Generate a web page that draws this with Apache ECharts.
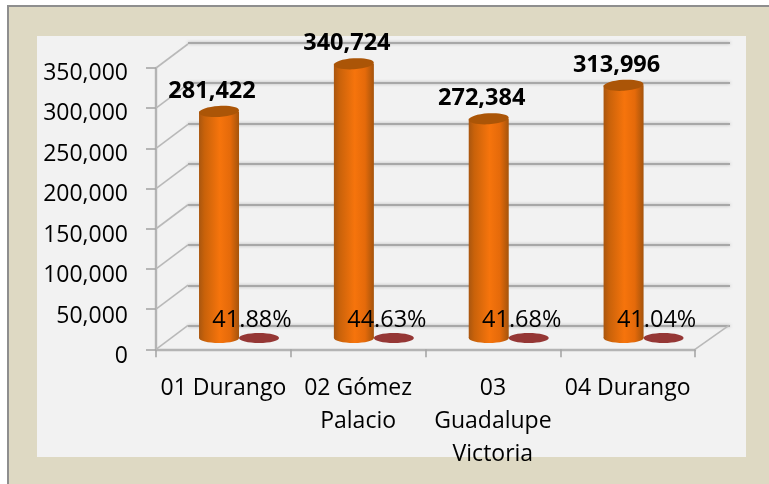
<!DOCTYPE html>
<html>
<head>
<meta charset="utf-8">
<style>html,body{margin:0;padding:0;background:#fff}#c{width:769px;height:484px}</style>
<script src="https://cdn.jsdelivr.net/npm/echarts@6/dist/echarts.min.js"></script>
</head>
<body>
<div id="c"></div>
<script>
const categories = ['01 Durango', '02 Gómez\nPalacio', '03\nGuadalupe\nVictoria', '04 Durango'];
const votes = [281422, 340724, 272384, 313996];
const shares = [0.4188, 0.4463, 0.4168, 0.4104];
const yTicks = [0, 50000, 100000, 150000, 200000, 250000, 300000, 350000];

const FONT = '"Open Sans", "Noto Sans", sans-serif';
const fmt = v => Number(v).toLocaleString('en-US');
const bodyGradient = {
  type: 'linear', x: 0, y: 0, x2: 1, y2: 0,
  colorStops: [
    { offset: 0, color: '#a9560f' }, { offset: 0.14, color: '#c9620a' },
    { offset: 0.52, color: '#f6740c' }, { offset: 0.78, color: '#e56a0a' },
    { offset: 1, color: '#a5540c' }
  ]
};
const BAR_W = 40;

function ellipse(cx, cy, rx, ry, fill, z2, rot) {
  return { type: 'ellipse', x: cx, y: cy, rotation: rot || 0, z2: z2,
    shape: { cx: 0, cy: 0, rx: rx, ry: ry }, style: { fill: fill } };
}

function renderCaps(params, api) {
  const i = api.value(0), c = api.coord([i, api.value(1)]);
  const b = api.coord([i, 0]);
  return { type: 'group', children: [
    ellipse(c[0] - BAR_W / 2, b[1], BAR_W / 2, 5, bodyGradient, 1),
    ellipse(c[0] - BAR_W / 2, c[1], BAR_W / 2, 5.5, '#ab5507', 2, 0.06),
    ellipse(c[0] + BAR_W / 2, b[1], BAR_W / 2, 5, '#953735', 2)
  ]};
}

function renderDepth(params, api) {
  const c = api.coord([0, api.value(0)]);
  const w = api.size([1, 0])[0];
  const x = c[0] - w / 2;
  const depth = { x: 32, y: -24 };
  const lines = [{ type: 'line', shape: { x1: x, y1: c[1], x2: x + depth.x, y2: c[1] + depth.y },
    style: { stroke: '#b9b9b9', lineWidth: 1.6 } }];
  if (api.value(0) === 0) {
    const xr = x + w * categories.length;
    lines.push({ type: 'line', shape: { x1: xr, y1: c[1], x2: xr + depth.x + 2, y2: c[1] + depth.y },
      style: { stroke: '#b9b9b9', lineWidth: 1.6 } });
  }
  return { type: 'group', children: lines };
}

const chart = echarts.init(document.getElementById('c'), null, { renderer: 'canvas' });
chart.setOption({
  animation: false,
  backgroundColor: '#ffffff',
  graphic: [
    { type: 'rect', z: -10, shape: { x: 8, y: 6, width: 780, height: 500 },
      style: { fill: '#ded9c3', stroke: '#8e8e8e', lineWidth: 2 } },
    { type: 'rect', z: -9, shape: { x: 37, y: 36, width: 709, height: 421 },
      style: { fill: '#f2f2f2' } }
  ],
  grid: [
    { left: 156, width: 539, top: 68, height: 281.3 },
    { left: 171.6, width: 539.4, top: 56.3, height: 281.7 },
    { left: 188, width: 542, top: 42.7, height: 283.3 },
    { left: 156, width: 539, top: 73, height: 283.7 }
  ],
  xAxis: [
    { gridIndex: 0, type: 'category', data: categories,
      axisLine: { lineStyle: { color: '#b4b4b4', width: 2.4 } },
      axisTick: { show: true, length: 8, lineStyle: { color: '#a6a6a6', width: 1.6 } },
      axisLabel: { interval: 0, color: '#000', fontFamily: FONT, fontSize: 23, lineHeight: 33.4, margin: 22, verticalAlign: 'top' } },
    { gridIndex: 1, type: 'category', data: categories, show: false },
    { gridIndex: 2, type: 'category', data: categories, show: false },
    { gridIndex: 3, type: 'category', data: categories, show: false }
  ],
  yAxis: [
    { gridIndex: 0, type: 'value', min: 0, max: 350000, interval: 50000,
      axisLine: { show: true, lineStyle: { color: '#b4b4b4', width: 2.4 } },
      axisTick: { show: true, length: 10, lineStyle: { color: '#a6a6a6', width: 1.6 } },
      splitLine: { show: false }, axisLabel: { show: false } },
    { gridIndex: 1, type: 'value', min: 0, max: 350000, interval: 50000, show: false, splitLine: { show: false } },
    { gridIndex: 2, type: 'value', min: 0, max: 350000, interval: 50000,
      axisLine: { show: false }, axisTick: { show: false }, axisLabel: { show: false },
      splitLine: { show: true, lineStyle: { color: '#a8a8a8', width: 2, shadowColor: 'rgba(120,120,120,0.5)', shadowBlur: 3 } } },
    { gridIndex: 3, type: 'value', min: 0, max: 350000, interval: 50000,
      axisLine: { show: false }, axisTick: { show: false }, splitLine: { show: false },
      axisLabel: { formatter: fmt, color: '#000', fontFamily: FONT, fontSize: 23, margin: 28 } }
  ],
  series: [
    { type: 'custom', name: 'depth', xAxisIndex: 0, yAxisIndex: 0, z: 1, silent: true, clip: false,
      data: yTicks.map(v => [v]), encode: { y: 0 }, renderItem: renderDepth },
    { type: 'bar', name: 'Votos', xAxisIndex: 1, yAxisIndex: 1, z: 2, barWidth: BAR_W, barGap: '0%',
      data: votes, itemStyle: { color: bodyGradient },
      label: { show: true, position: 'top', offset: [-7, -3], formatter: p => fmt(p.value),
        color: '#000', fontFamily: FONT, fontWeight: 'bold', fontSize: 23.5 } },
    { type: 'bar', name: 'Porcentaje', xAxisIndex: 1, yAxisIndex: 1, z: 5, barWidth: BAR_W, barGap: '0%',
      data: shares, itemStyle: { color: 'rgba(149,55,53,0)' },
      label: { show: true, position: 'top', offset: [-7, -1], formatter: p => (p.value * 100).toFixed(2) + '%',
        color: '#000', fontFamily: FONT, fontSize: 23.5 } },
    { type: 'custom', name: 'caps', xAxisIndex: 1, yAxisIndex: 1, z: 3, silent: true, clip: false,
      data: votes.map((v, i) => [i, v]), encode: { x: 0, y: 1 }, renderItem: renderCaps }
  ]
});
</script>
</body>
</html>
